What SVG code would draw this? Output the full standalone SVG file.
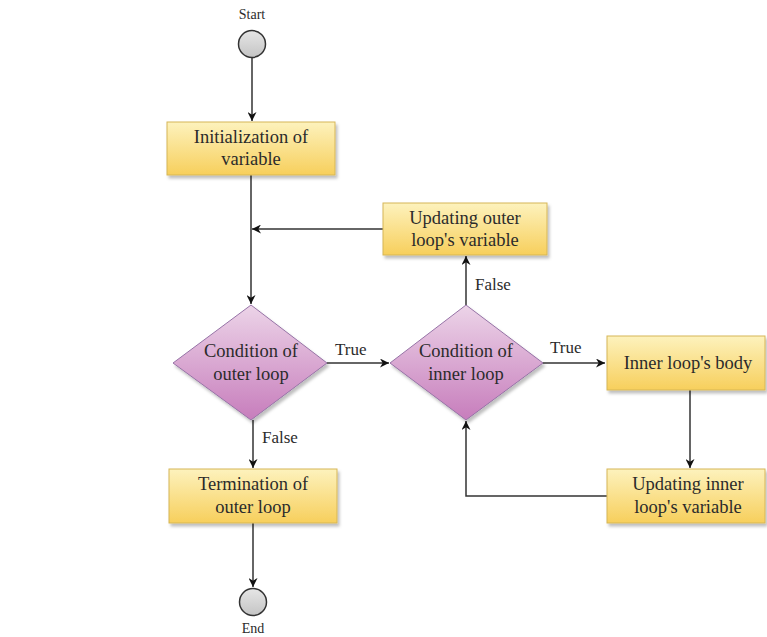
<svg xmlns="http://www.w3.org/2000/svg" width="767" height="637" viewBox="0 0 767 637">
<style>
.box{fill:url(#yg);stroke:#d6b656;stroke-width:1;filter:url(#sh)}
.dia{fill:url(#pg);stroke:#9673a6;stroke-width:1;filter:url(#sh)}
.term{fill:url(#gg);stroke:#333;stroke-width:1.5}
.t{font-family:"Liberation Serif","Times New Roman",serif;font-size:18.5px;fill:#2b2b2b;text-anchor:middle}
.s{font-family:"Liberation Serif","Times New Roman",serif;font-size:14px;fill:#2b2b2b;text-anchor:middle}
.l{font-family:"Liberation Serif","Times New Roman",serif;font-size:17px;fill:#2b2b2b}
.c{fill:none;stroke:#333;stroke-width:1.5}
</style>
<defs>
<linearGradient id="yg" x1="0" y1="0" x2="0" y2="1"><stop offset="0" stop-color="#fdf2bd"/><stop offset="1" stop-color="#f7cf5c"/></linearGradient>
<linearGradient id="pg" x1="0" y1="0" x2="0" y2="1"><stop offset="0" stop-color="#ecd4e8"/><stop offset="1" stop-color="#c77dbc"/></linearGradient>
<linearGradient id="gg" x1="0" y1="0" x2="0" y2="1"><stop offset="0" stop-color="#e6e6e6"/><stop offset="1" stop-color="#c4c4c4"/></linearGradient>
<filter id="sh" x="-10%" y="-10%" width="130%" height="130%"><feDropShadow dx="2" dy="3" stdDeviation="1.5" flood-color="#000" flood-opacity="0.25"/></filter>
<marker id="a" viewBox="0 0 10 10" refX="10" refY="5" markerWidth="9" markerHeight="9" orient="auto" markerUnits="userSpaceOnUse"><path d="M0,0 L10,5 L0,10 L3,5 Z" fill="#111"/></marker>
</defs>
<g id="connectors">
<path class="c" d="M252,58 V121" marker-end="url(#a)"/>
<path class="c" d="M251,175 V304" marker-end="url(#a)"/>
<path class="c" d="M383,229 H252" marker-end="url(#a)"/>
<path class="c" d="M327,363 H389" marker-end="url(#a)"/>
<path class="c" d="M466,305 V256" marker-end="url(#a)"/>
<path class="c" d="M543,363 H605" marker-end="url(#a)"/>
<path class="c" d="M690,390 V468" marker-end="url(#a)"/>
<path class="c" d="M607,496 H466 V421" marker-end="url(#a)"/>
<path class="c" d="M253,420 V468" marker-end="url(#a)"/>
<path class="c" d="M253,523 V587" marker-end="url(#a)"/>
<text class="l" x="335" y="355">True</text>
<text class="l" x="550" y="353">True</text>
<text class="l" x="475" y="290">False</text>
<text class="l" x="262" y="443">False</text>
</g>
<g id="start"><circle class="term" cx="252" cy="44" r="13.5"/><text class="s" x="252" y="19">Start</text></g>
<g id="init"><rect class="box" x="167" y="122" width="168" height="53"/><text class="t" x="251" y="143">Initialization of</text><text class="t" x="251" y="165">variable</text></g>
<g id="upd_outer"><rect class="box" x="383" y="203" width="164" height="52"/><text class="t" x="465" y="224">Updating outer</text><text class="t" x="465" y="246">loop's variable</text></g>
<g id="cond_outer"><polygon class="dia" points="251,305 327,363 251,420 173,363"/><text class="t" x="251" y="357">Condition of</text><text class="t" x="251" y="380">outer loop</text></g>
<g id="cond_inner"><polygon class="dia" points="466,305 543,363 466,420 390,363"/><text class="t" x="466" y="357">Condition of</text><text class="t" x="466" y="380">inner loop</text></g>
<g id="body"><rect class="box" x="607" y="336" width="158" height="54"/><text class="t" x="688" y="369">Inner loop's body</text></g>
<g id="upd_inner"><rect class="box" x="607" y="469" width="158" height="54"/><text class="t" x="688" y="490">Updating inner</text><text class="t" x="688" y="513">loop's variable</text></g>
<g id="term"><rect class="box" x="169" y="469" width="168" height="54"/><text class="t" x="253" y="490">Termination of</text><text class="t" x="253" y="513">outer loop</text></g>
<g id="end"><circle class="term" cx="253" cy="602" r="13.5"/><text class="s" x="253" y="633">End</text></g>
</svg>
